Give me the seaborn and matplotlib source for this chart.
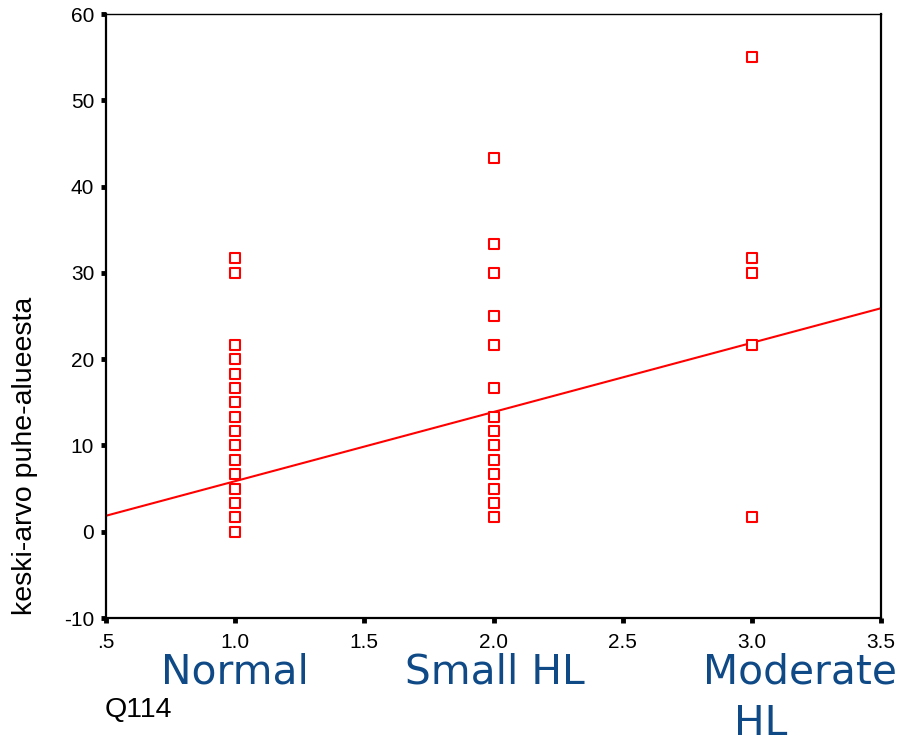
import matplotlib
matplotlib.use("Agg")
import matplotlib.pyplot as plt
import seaborn as sns
import pandas as pd

# ---- data ----
normal_vals = [0, 1.67, 3.33, 5, 6.67, 8.33, 10, 11.67, 13.33, 15, 16.67, 18.33, 20, 21.67, 30, 31.67]
small_vals = [1.67, 3.33, 5, 6.67, 8.33, 10, 11.67, 13.33, 16.67, 21.67, 25, 30, 33.33, 43.33]
moderate_vals = [1.67, 21.67, 30, 31.67, 55]
group_x = [1.0, 2.0, 3.0]

fit_x = [0.5, 3.5]
fit_y = [1.85, 25.9]

x_ticks = [0.5, 1.0, 1.5, 2.0, 2.5, 3.0, 3.5]
x_tick_labels = [".5", "1.0", "1.5", "2.0", "2.5", "3.0", "3.5"]
y_ticks = [-10, 0, 10, 20, 30, 40, 50, 60]
y_tick_labels = ["-10", "0", "10", "20", "30", "40", "50", "60"]

category_labels = ["Normal", "Small HL", "Moderate", "HL"]
x_label = "Q114"
y_label = "keski-arvo puhe-alueesta"

# ---- build table ----
rows = []
for gx, vals in zip(group_x, [normal_vals, small_vals, moderate_vals]):
    for v in vals:
        rows.append({"Q114": gx, "value": v})
df = pd.DataFrame(rows)
fit_df = pd.DataFrame({"x": fit_x, "y": fit_y})

sns.set_theme(style="white")
plt.rcParams["font.family"] = ["Liberation Sans", "DejaVu Sans"]

fig = plt.figure(figsize=(9.17, 7.44), dpi=100)
ax = fig.add_axes([106 / 917, 1 - 618 / 744, (881 - 106) / 917, (618 - 14) / 744])

sns.lineplot(data=fit_df, x="x", y="y", ax=ax, color="#ff0000", linewidth=1.5)
sns.scatterplot(data=df, x="Q114", y="value", ax=ax, marker="s", s=52,
                facecolor="white", edgecolor="#ff0000", linewidth=1.5, zorder=3)

ax.set_xlim(0.5, 3.5)
ax.set_ylim(-10, 60)
ax.set_xticks(x_ticks)
ax.set_xticklabels(x_tick_labels)
ax.set_yticks(y_ticks)
ax.set_yticklabels(y_tick_labels)
ax.tick_params(axis="both", which="major", bottom=True, left=True, top=False, right=False,
               direction="out", length=3.5, width=3.5, color="black",
               labelsize=15, labelcolor="black")
ax.tick_params(axis="x", pad=7)
ax.tick_params(axis="y", pad=5)
ax.set_xlabel("")
ax.set_ylabel("")

for side in ["left", "bottom", "right"]:
    ax.spines[side].set_linewidth(1.6)
    ax.spines[side].set_color("black")
ax.spines["top"].set_linewidth(1.0)
ax.spines["top"].set_color("black")

# y label (positioned as in the reference)
fig.text(25 / 917, 1 - 456 / 744, y_label, rotation=90, ha="center", va="center",
         fontsize=20.5, color="black")
# x label
fig.text(105 / 917, 1 - 710 / 744, x_label, ha="left", va="center",
         fontsize=20.5, color="black")

# category annotations
blue = "#0F4A87"
cat_pos = [(235, 672), (495, 672), (800, 672), (761, 724)]
for lab, (px, py) in zip(category_labels, cat_pos):
    fig.text(px / 917, 1 - py / 744, lab, ha="center", va="center",
             fontsize=29.3, color=blue, family="DejaVu Sans")

fig.savefig("out.png", dpi=100)
